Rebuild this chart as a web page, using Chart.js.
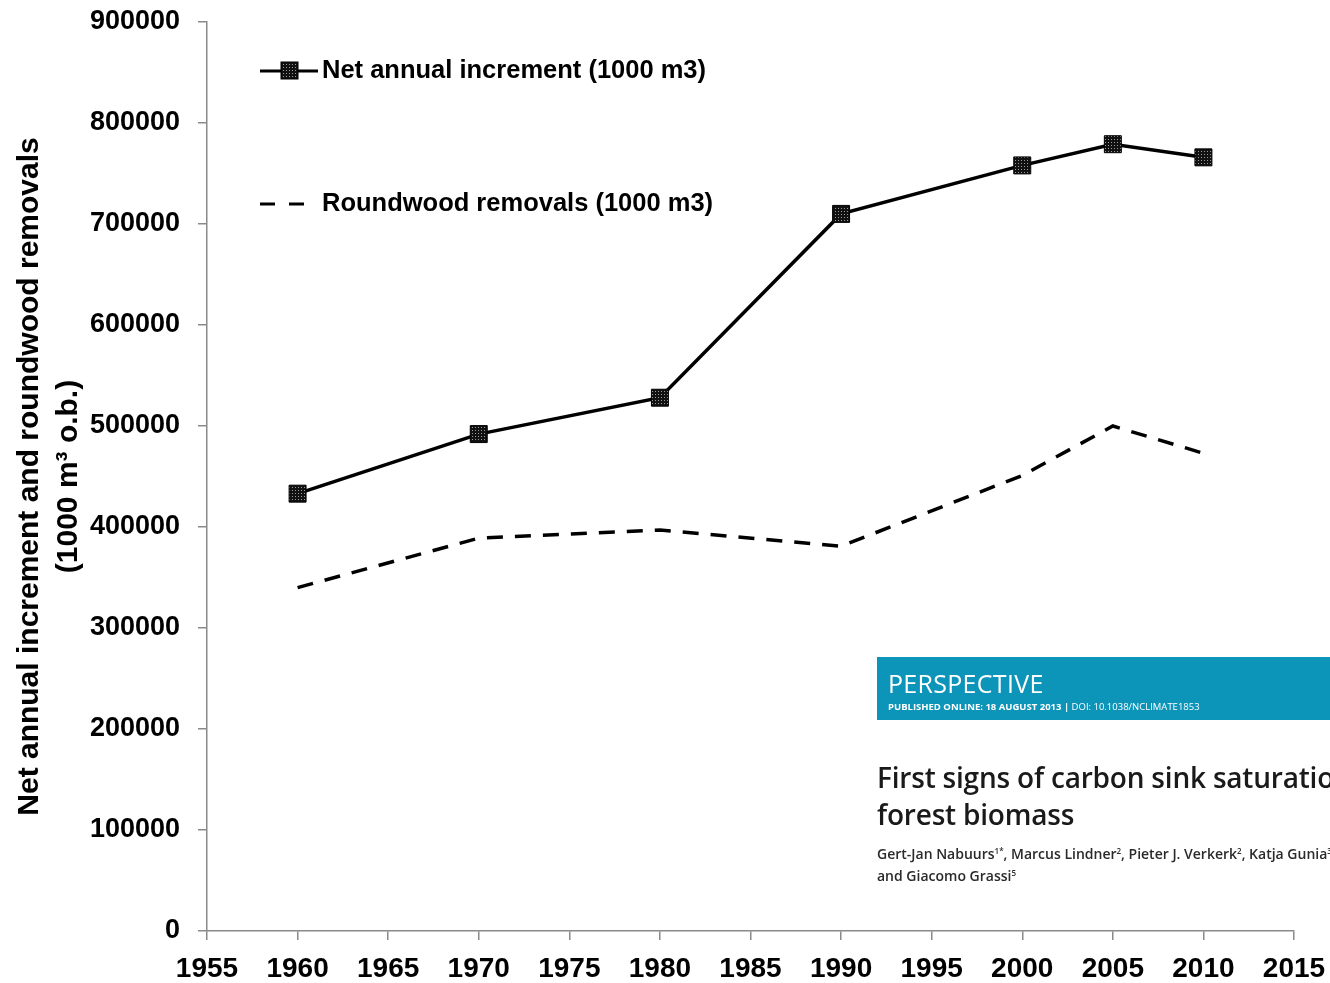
<!DOCTYPE html>
<html>
<head>
<meta charset="utf-8">
<script src="https://cdn.jsdelivr.net/npm/chart.js@4"></script>
<style>
  html, body { margin: 0; padding: 0; background: #fff; overflow: hidden; }
  #wrap { position: relative; width: 1330px; height: 983px; overflow: hidden; }
  #inset { position: absolute; left: 877px; top: 657px; width: 460px; height: 240px; font-family: "Open Sans", sans-serif; }
  #inset .band { background: #0c94b9; height: 63px; padding-left: 11px; box-sizing: border-box; color: #fff; white-space: nowrap; }
  #inset .kind { font-size: 25px; font-weight: 400; letter-spacing: 0.3px; line-height: 27px; padding-top: 13px; }
  #inset .pub { font-size: 9.5px; font-weight: 700; margin-top: 3px; }
  #inset .pub span { font-weight: 400; }
  #inset .title { font-size: 28px; font-weight: 600; color: #1a1a1a; line-height: 37px; margin-top: 39px; white-space: nowrap; letter-spacing: -0.2px; }
  #inset .authors { font-size: 14px; font-weight: 600; color: #2a2a2a; line-height: 22px; margin-top: 10px; white-space: nowrap; }
  #inset sup { font-size: 8px; line-height: 0; vertical-align: 5px; }
</style>
</head>
<body>
<div id="wrap">
  <canvas id="chart" width="1330" height="983"></canvas>
  <div id="inset">
    <div class="band">
      <div class="kind">PERSPECTIVE</div>
      <div class="pub">PUBLISHED ONLINE: 18 AUGUST 2013 | <span>DOI: 10.1038/NCLIMATE1853</span></div>
    </div>
    <div class="title">First signs of carbon sink saturation in European<br>forest biomass</div>
    <div class="authors">Gert-Jan Nabuurs<sup>1*</sup>, Marcus Lindner<sup>2</sup>, Pieter J. Verkerk<sup>2</sup>, Katja Gunia<sup>3</sup>, Paola Deda<sup>4</sup>, Roman Michalak<sup>4</sup><br>and Giacomo Grassi<sup>5</sup></div>
  </div>
</div>
<script>
const years = [1960, 1970, 1980, 1990, 2000, 2005, 2010];
const netIncrement = [433000, 492000, 528000, 710000, 758000, 779000, 766000];
const removals = [340000, 389000, 397000, 381000, 451000, 500000, 473000];
const seriesLabels = ['Net annual increment (1000 m3)', 'Roundwood removals (1000 m3)'];
const yTitle = ['Net annual increment and roundwood removals', '(1000 m\u00b3 o.b.)'];

// dotted fill for the square markers
function dotPattern() {
  const c = document.createElement('canvas');
  c.width = 3; c.height = 3;
  const g = c.getContext('2d');
  g.fillStyle = '#111';
  g.fillRect(0, 0, 3, 3);
  g.fillStyle = '#9a9a9a';
  g.fillRect(1, 1, 1, 1);
  return g.createPattern(c, 'repeat');
}

const ctx = document.getElementById('chart');
const markerFill = dotPattern();

const legendInside = {
  id: 'legendInside',
  afterDraw(chart) {
    const c = chart.ctx;
    const x0 = chart.chartArea.left + 53;
    c.save();
    c.lineWidth = 3;
    c.strokeStyle = '#000';
    // first entry: line with marker
    c.beginPath();
    c.moveTo(x0, 71); c.lineTo(x0 + 58, 71);
    c.stroke();
    c.fillStyle = markerFill;
    c.fillRect(x0 + 21, 62, 17, 17);
    c.lineWidth = 1;
    c.strokeRect(x0 + 21, 62, 17, 17);
    // second entry: dashed
    c.lineWidth = 3;
    c.setLineDash([15, 14]);
    c.beginPath();
    c.moveTo(x0, 204); c.lineTo(x0 + 46, 204);
    c.stroke();
    c.setLineDash([]);
    c.fillStyle = '#000';
    c.font = 'bold 25.5px "Liberation Sans", Arial, sans-serif';
    c.textBaseline = 'middle';
    c.fillText(seriesLabels[0], x0 + 62, 71);
    c.fillText(seriesLabels[1], x0 + 62, 204);
    c.restore();
  }
};

// let the tick labels hang over the edges instead of shrinking the plot
function noEdgePadding(scale) {
  scale.paddingTop = 0;
  scale.paddingBottom = 0;
  scale.paddingLeft = 0;
  scale.paddingRight = 0;
}

new Chart(ctx, {
  type: 'line',
  data: {
    datasets: [{
      label: seriesLabels[0],
      data: years.map((y, i) => ({ x: y, y: netIncrement[i] })),
      borderColor: '#000',
      borderWidth: 3.5,
      pointStyle: 'rect',
      pointRadius: 12,
      pointBackgroundColor: markerFill,
      pointBorderColor: '#000',
      pointBorderWidth: 1,
      tension: 0
    }, {
      label: seriesLabels[1],
      data: years.map((y, i) => ({ x: y, y: removals[i] })),
      borderColor: '#000',
      borderWidth: 3.5,
      borderDash: [16, 12],
      pointRadius: 0,
      tension: 0
    }]
  },
  options: {
    responsive: false,
    animation: false,
    layout: { padding: { top: 22, right: 36, left: 0, bottom: 0 } },
    plugins: {
      legend: { display: false },
      tooltip: { enabled: false }
    },
    scales: {
      x: {
        type: 'linear',
        min: 1955,
        max: 2015,
        afterFit(scale) { scale.height = 52; noEdgePadding(scale); },
        border: { color: '#8a8a8a', width: 1.5 },
        grid: { drawOnChartArea: false, drawTicks: true, tickLength: 9, color: '#8a8a8a', lineWidth: 1.5 },
        ticks: {
          stepSize: 5,
          color: '#000',
          padding: 12,
          maxRotation: 0,
          font: { family: '"Liberation Sans", Arial, sans-serif', size: 28, weight: 'bold' },
          callback: v => String(v)
        }
      },
      y: {
        min: 0,
        max: 900000,
        afterFit(scale) { scale.width = 207; noEdgePadding(scale); },
        border: { color: '#8a8a8a', width: 1.5 },
        grid: { drawOnChartArea: false, drawTicks: true, tickLength: 9, color: '#8a8a8a', lineWidth: 1.5 },
        ticks: {
          stepSize: 100000,
          color: '#000',
          padding: 18,
          font: { family: '"Liberation Sans", Arial, sans-serif', size: 27, weight: 'bold' },
          callback: v => String(v)
        },
        title: {
          display: true,
          text: yTitle,
          color: '#000',
          padding: { top: 10, bottom: 0 },
          font: { family: '"Liberation Sans", Arial, sans-serif', size: 30, weight: 'bold', lineHeight: 1.3 }
        }
      }
    }
  },
  plugins: [legendInside]
});
</script>
</body>
</html>
